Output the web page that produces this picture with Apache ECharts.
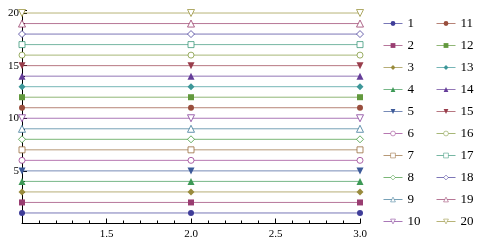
<!DOCTYPE html>
<html><head><meta charset="utf-8">
<script src="https://cdn.jsdelivr.net/npm/echarts@6/dist/echarts.min.js"></script>
<style>html,body{margin:0;padding:0;background:#fff}#c{width:499px;height:242px}</style>
</head><body><div id="c"></div>
<script>
var xValues = [1, 2, 3];
var seriesNames = ['1','2','3','4','5','6','7','8','9','10','11','12','13','14','15','16','17','18','19','20'];
var seriesValues = [
  [1,1,1],[2,2,2],[3,3,3],[4,4,4],[5,5,5],[6,6,6],[7,7,7],[8,8,8],[9,9,9],[10,10,10],
  [11,11,11],[12,12,12],[13,13,13],[14,14,14],[15,15,15],[16,16,16],[17,17,17],[18,18,18],[19,19,19],[20,20,20]
];
var xTickLabels = ['1.5','2.0','2.5','3.0'];
var yTickLabels = ['5','10','15','20'];
var colors = ['#3f3d99','#993d71','#998b3d','#3d9956','#3d5a99','#993d90','#996d3d','#43993d','#3d7999','#843d99',
              '#994e3d','#62993d','#3d9799','#653d99','#993d4b','#81993d','#3d997c','#463d99','#993d6a','#99933d'];
var DOWN = 'path://M0,0 L10,0 L5,8.66 Z';
var shapes = ['circle','rect','diamond','triangle',DOWN];
var sizes = [6,6,7,7,7];

function isFilled(i){ return (Math.floor(i / 5) % 2) === 0; }

var series = seriesNames.map(function(n, i){
  var k = i % 5;
  var c = colors[i];
  return {
    name: n, type: 'line',
    data: xValues.map(function(x, j){ return [x, seriesValues[i][j]]; }),
    symbol: shapes[k], symbolSize: sizes[k],
    showAllSymbol: true,
    itemStyle: isFilled(i) ? {color: c, borderWidth: 0} : {color: '#ffffff', borderColor: c, borderWidth: 0.8},
    lineStyle: {color: c, width: 1, opacity: 0.7},
    emphasis: {disabled: true},
    animation: false,
    clip: false
  };
});

function legendData(from, to){
  return seriesNames.slice(from, to).map(function(n, j){
    var i = from + j;
    return isFilled(i) ? {name: n} : {name: n, itemStyle: {borderWidth: 0.55}};
  });
}

var font = 'Liberation Serif';
var chart = echarts.init(document.getElementById('c'), null, {renderer: 'canvas'});
var legendBase = {
  orient: 'vertical', itemWidth: 19, itemHeight: 6, itemGap: 7, padding: 0,
  textStyle: {fontFamily: font, fontSize: 13, color: '#000', lineHeight: 15},
  lineStyle: {width: 1, opacity: 0.7},
  selectedMode: false
};
chart.setOption({
  animation: false,
  color: colors,
  grid: {left: 22, right: 139, top: 10.4, bottom: 18.5, containLabel: false},
  xAxis: {
    type: 'value', min: 1, max: 3, interval: 0.5,
    axisLine: {show: true, lineStyle: {color: '#000', width: 1}},
    axisTick: {show: true, inside: true, length: 5, lineStyle: {color: '#000'}},
    minorTick: {show: true, splitNumber: 5, length: 3, lineStyle: {color: '#000'}},
    splitLine: {show: false},
    axisLabel: {fontFamily: font, fontSize: 11, color: '#000', margin: 5,
      formatter: function(v){ var s = v.toFixed(1); return xTickLabels.indexOf(s) >= 0 ? s : ''; }}
  },
  yAxis: {
    type: 'value', min: 0, max: 20.25, interval: 5,
    axisLine: {show: true, onZero: false, lineStyle: {color: '#000', width: 1}},
    axisTick: {show: true, inside: true, length: 5, lineStyle: {color: '#000'}},
    minorTick: {show: true, splitNumber: 5, length: 3, lineStyle: {color: '#000'}},
    splitLine: {show: false},
    axisLabel: {fontFamily: font, fontSize: 11, color: '#000', margin: 3, showMaxLabel: false,
      formatter: function(v){ var s = String(v); return yTickLabels.indexOf(s) >= 0 ? s : ''; }}
  },
  legend: [
    Object.assign({}, legendBase, {left: 383, top: 16, data: legendData(0, 10)}),
    Object.assign({}, legendBase, {left: 436, top: 16, data: legendData(10, 20)})
  ],
  series: series
});
</script></body></html>
